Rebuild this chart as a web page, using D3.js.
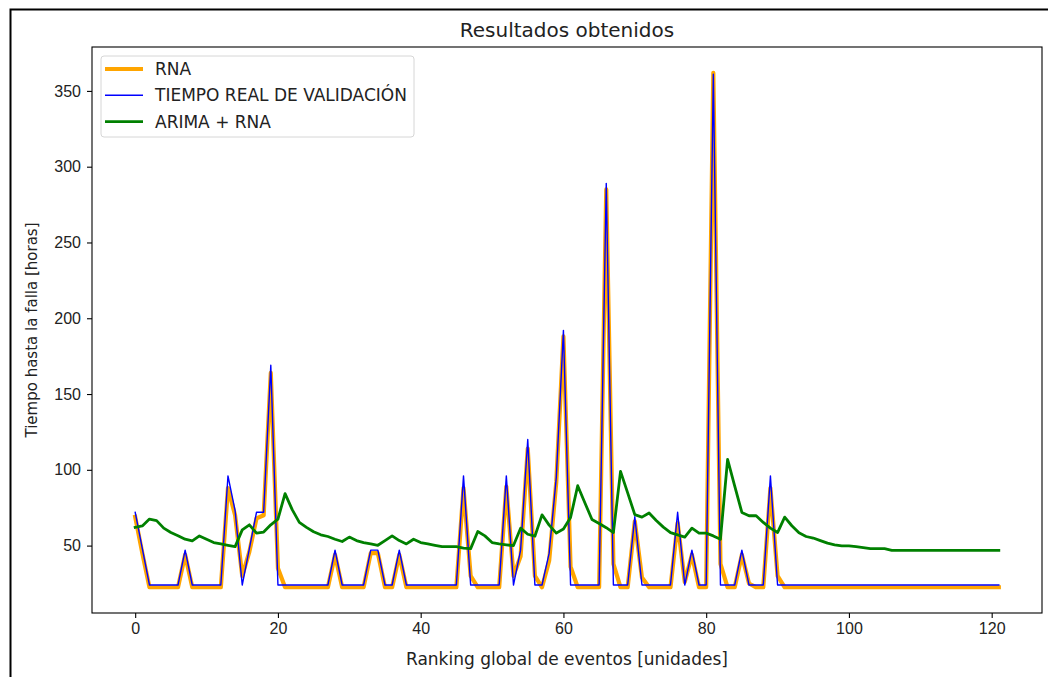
<!DOCTYPE html>
<html>
<head>
<meta charset="utf-8">
<script src="https://cdn.jsdelivr.net/npm/d3@7"></script>
<style>
  body { margin: 0; background: #fff; }
  svg { display: block; font-family: "DejaVu Sans", sans-serif; }
  .axis text { font-size: 16px; fill: #222; }
  .axis path, .axis line { stroke: #000; stroke-width: 1.1; }
</style>
</head>
<body>
<div id="container"></div>
<script>
// valores, indices 0..121
var rna = [69, 45, 22.5, 22.5, 22.5, 22.5, 22.5, 44, 22.5, 22.5,
    22.5, 22.5, 22.5, 88, 70, 30, 46, 68, 70, 164,
    35, 22.5, 22.5, 22.5, 22.5, 22.5, 22.5, 22.5, 44, 22.5,
    22.5, 22.5, 22.5, 45, 45, 22.5, 22.5, 44, 22.5, 22.5,
    22.5, 22.5, 22.5, 22.5, 22.5, 22.5, 88, 30, 22.5, 22.5,
    22.5, 22.5, 89, 30, 43, 114, 30, 22.5, 40, 92,
    188, 36, 22.5, 22.5, 22.5, 22.5, 285, 38, 22.5, 22.5,
    66, 29, 22.5, 22.5, 22.5, 22.5, 65, 26, 44, 22.5,
    22.5, 362, 38, 22.5, 22.5, 44, 25, 22.5, 22.5, 88,
    30, 22.5, 22.5, 22.5, 22.5, 22.5, 22.5, 22.5, 22.5, 22.5,
    22.5, 22.5, 22.5, 22.5, 22.5, 22.5, 22.5, 22.5, 22.5, 22.5,
    22.5, 22.5, 22.5, 22.5, 22.5, 22.5, 22.5, 22.5, 22.5, 22.5,
    22.5, 22.5];

var real = [72, 48, 24, 24, 24, 24, 24, 47, 24, 24,
    24, 24, 24, 96, 73, 24, 48, 72, 72, 169,
    24, 24, 24, 24, 24, 24, 24, 24, 47, 24,
    24, 24, 24, 47, 47, 24, 24, 47, 24, 24,
    24, 24, 24, 24, 24, 24, 96, 24, 24, 24,
    24, 24, 96, 24, 47, 120, 24, 24, 45, 95,
    192, 24, 24, 24, 24, 24, 289, 24, 24, 24,
    69, 24, 24, 24, 24, 24, 72, 24, 47, 24,
    24, 361, 24, 24, 24, 47, 24, 24, 24, 96,
    24, 24, 24, 24, 24, 24, 24, 24, 24, 24,
    24, 24, 24, 24, 24, 24, 24, 24, 24, 24,
    24, 24, 24, 24, 24, 24, 24, 24, 24, 24,
    24, 24];

var arima = [62, 63, 67.5, 66.5, 61.5, 58.6, 56.5, 54.2, 53.1, 56.4,
    54.2, 52, 51.1, 50.2, 49.3, 60.4, 63.7, 58.2, 58.9, 63.7,
    67.5, 84.3, 73.7, 65.3, 62, 59.1, 57.1, 56, 54.2, 52.7,
    55.6, 53.3, 52, 51.1, 50.2, 53.3, 56.4, 53.3, 51.1, 54.2,
    52, 51.1, 50.2, 49.3, 49.3, 49.3, 48.3, 48, 59.3, 56.4,
    52, 51.1, 50.5, 50, 61.5, 57.5, 56.2, 70.3, 63.5, 58.2,
    61, 68.5, 89.5, 78.3, 67.2, 64.6, 61.8, 58.6, 99, 84.8,
    70.4, 68.8, 71.5, 66.6, 62.2, 58.6, 57.1, 55.6, 61.5, 58.2,
    58.2, 56.4, 54.2, 106.9, 89.2, 71.9, 69.7, 69.7, 65.3, 61.5,
    58.6, 68.8, 63.1, 58.4, 56, 55, 53.3, 51.6, 50.5, 49.8,
    49.8, 49.3, 48.7, 48, 48, 48, 46.9, 46.9, 46.9, 46.9,
    46.9, 46.9, 46.9, 46.9, 46.9, 46.9, 46.9, 46.9, 46.9, 46.9,
    46.9, 46.9];

var xTicks = [0, 20, 40, 60, 80, 100, 120];
var yTicks = [50, 100, 150, 200, 250, 300, 350];

var series = [
    { name: 'RNA', values: rna, color: 'orange', width: 4.2 },
    { name: 'TIEMPO REAL DE VALIDACIÓN', values: real, color: 'blue', width: 1.4 },
    { name: 'ARIMA + RNA', values: arima, color: 'green', width: 2.8 }
];

var width = 1048,
    height = 677;
var margin = { left: 92, right: 6, top: 47, bottom: 64 };

var svg = d3.select("#container").append("svg")
    .attr("width", width)
    .attr("height", height);

// marco exterior de la figura (recortado por la captura)
svg.append("path")
    .attr("d", "M10.5,700 L10.5,9.5 L1060,9.5")
    .attr("fill", "none")
    .attr("stroke", "#000")
    .attr("stroke-width", 2);

// margenes estilo matplotlib (5%)
var n = rna.length;
var xPad = (n - 1) * 0.05;
var all = rna.concat(real, arima);
var yMin = d3.min(all), yMax = d3.max(all);
var yPad = (yMax - yMin) * 0.05;

var x = d3.scaleLinear()
    .domain([-xPad, n - 1 + xPad])
    .range([margin.left, width - margin.right]);
var y = d3.scaleLinear()
    .domain([yMin - yPad, yMax + yPad])
    .range([height - margin.bottom, margin.top]);

var g = svg.append('g');

var line = d3.line()
    .x(function (d, i) { return x(i); })
    .y(function (d) { return y(d); });

g.selectAll(".serie").data(series)
    .enter().append("path")
    .attr("class", "serie")
    .attr("d", function (d) { return line(d.values); })
    .attr("fill", "none")
    .attr("stroke", function (d) { return d.color; })
    .attr("stroke-width", function (d) { return d.width; })
    .attr("stroke-linejoin", "round")
    .attr("stroke-linecap", "square");

// ejes
var xAxis = svg.append("g")
    .attr("class", "axis")
    .attr("transform", "translate(0," + (height - margin.bottom) + ")")
    .call(d3.axisBottom(x).tickValues(xTicks).tickSize(5).tickPadding(5).tickSizeOuter(0));
var yAxis = svg.append("g")
    .attr("class", "axis")
    .attr("transform", "translate(" + margin.left + ",0)")
    .call(d3.axisLeft(y).tickValues(yTicks).tickSize(5).tickPadding(6).tickSizeOuter(0));
xAxis.select(".domain").remove();
yAxis.select(".domain").remove();

// recuadro de los ejes
svg.append("rect")
    .attr("x", margin.left)
    .attr("y", margin.top)
    .attr("width", width - margin.left - margin.right)
    .attr("height", height - margin.top - margin.bottom)
    .attr("fill", "none")
    .attr("stroke", "#000")
    .attr("stroke-width", 1.1);

// titulo y etiquetas
var cx = (margin.left + width - margin.right) / 2;
svg.append("text")
    .attr("x", cx)
    .attr("y", 37)
    .attr("text-anchor", "middle")
    .style("font-size", "20px")
    .style("fill", "#222")
    .text("Resultados obtenidos");
svg.append("text")
    .attr("x", cx)
    .attr("y", 665)
    .attr("text-anchor", "middle")
    .style("font-size", "17px")
    .style("fill", "#222")
    .text("Ranking global de eventos [unidades]");
svg.append("text")
    .attr("transform", "translate(37," + ((margin.top + height - margin.bottom) / 2) + ") rotate(-90)")
    .attr("text-anchor", "middle")
    .style("font-size", "15px")
    .style("fill", "#222")
    .text("Tiempo hasta la falla [horas]");

// leyenda
var legend = svg.append("g").attr("transform", "translate(101,56)");
legend.append("rect")
    .attr("width", 313)
    .attr("height", 81)
    .attr("rx", 3)
    .attr("fill", "#fff")
    .attr("fill-opacity", 0.8)
    .attr("stroke", "#d6d6d6")
    .attr("stroke-width", 1);
var item = legend.selectAll(".item").data(series)
    .enter().append("g")
    .attr("class", "item")
    .attr("transform", function (d, i) { return "translate(0," + (13 + i * 26.3) + ")"; });
item.append("line")
    .attr("x1", 4).attr("x2", 42)
    .attr("stroke", function (d) { return d.color; })
    .attr("stroke-width", function (d) { return d.width; });
item.append("text")
    .attr("x", 54)
    .attr("dy", "0.35em")
    .style("font-size", "17px")
    .style("fill", "#222")
    .text(function (d) { return d.name; });
</script>
</body>
</html>
